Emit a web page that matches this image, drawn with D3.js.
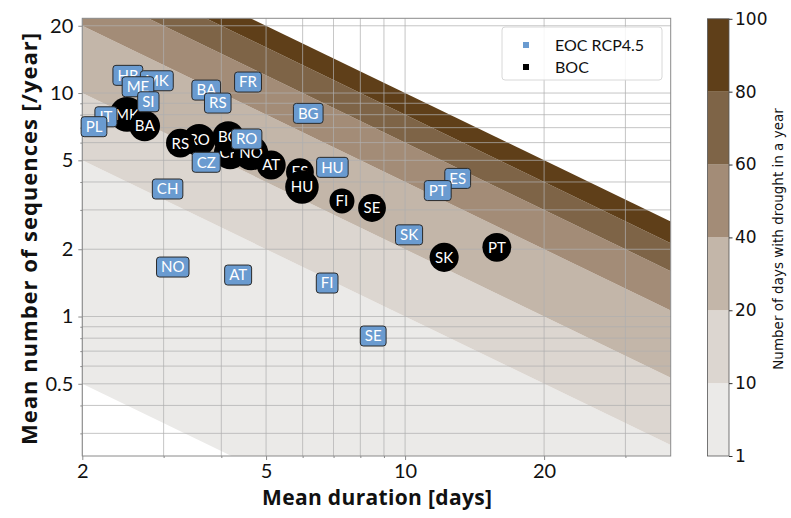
<!DOCTYPE html>
<html><head><meta charset="utf-8">
<script src="https://cdn.jsdelivr.net/npm/d3@7"></script>
<style>
html,body{margin:0;padding:0;background:#fff;}
svg{display:block;}
</style></head>
<body>
<svg id="chart" width="791" height="518"></svg>
<script>
// ---- data ----
const eocCodes    = ["HR","MK","ME","SI","IT","PL","BA","RS","FR","BG","RO","CZ","CH","HU","ES","PT","SK","NO","AT","FI","SE"];
const eocDuration = [2.51,2.90,2.64,2.78,2.25,2.12,3.71,3.93,4.57,6.17,4.54,3.71,3.06,6.96,13.0,11.77,10.2,3.14,4.35,6.78,8.53];
const eocNumber   = [12.0,11.35,10.67,9.14,7.83,7.07,10.31,9.02,11.2,8.11,6.23,4.90,3.72,4.65,4.15,3.66,2.32,1.665,1.533,1.412,0.818];

const bocCodes    = ["CH","NO","AT","BG","RO","RS","MK","BA","ES","HU","FI","SE","SK","PT"];
const bocDuration = [4.18,4.64,5.13,4.14,3.58,3.26,2.50,2.73,5.92,5.98,7.30,8.48,12.15,15.8];
const bocNumber   = [5.39,5.39,4.76,6.36,6.16,5.97,8.03,7.12,4.43,3.80,3.29,3.06,1.84,2.04];

const levels      = [1,10,20,40,60,80,100];
const levelColors = ["#ebeae8","#dcd6d0","#c3b6a9","#a38c77","#7e6447","#5f3f19"];

const xTicks = [2,5,10,20];
const yTicks = [0.5,1,2,5,10,20];

// ---- layout ----
const svg = d3.select("#chart");
const L = 82.3, R = 670.7, T = 18.3, B = 456;
const x = d3.scaleLog().domain([2, 37.6]).range([L, R]);
const y = d3.scaleLog().domain([0.2376, 21.6]).range([B, T]);
const tickFont = "Lato, 'DejaVu Sans', sans-serif";
const titleFont = "'Open Sans', Lato, sans-serif";

svg.append("defs").append("clipPath").attr("id","plotclip")
  .append("rect").attr("x",L).attr("y",T).attr("width",R-L).attr("height",B-T);

// contour bands (product duration*number constant -> straight lines in log-log)
const bands = svg.append("g").attr("clip-path","url(#plotclip)");
const [x0,x1] = x.domain();
for (let i=0;i<levels.length-1;i++){
  const a = levels[i], b = levels[i+1];
  const pts = [[x0,b/x0],[x1,b/x1],[x1,a/x1],[x0,a/x0]].map(p=>[x(p[0]),y(p[1])]);
  bands.append("path").attr("d", d3.line()(pts)+"Z").attr("fill", levelColors[i]);
}

// minor/major values for grid
function logVals(lo, hi){
  const out=[];
  for(let e=Math.floor(Math.log10(lo)); e<=Math.ceil(Math.log10(hi)); e++){
    for(let m=1;m<10;m++){ const v=m*Math.pow(10,e); if(v>=lo*0.999 && v<=hi*1.001) out.push(v);}
  }
  return out;
}
const xAll = logVals(x0,x1), yAll = logVals(0.2376,21.6);
const grid = svg.append("g");
grid.selectAll("line.gx").data(xAll).join("line")
  .attr("x1",d=>x(d)).attr("x2",d=>x(d)).attr("y1",T).attr("y2",B)
  .attr("stroke","#b0b0b0").attr("stroke-width",0.9).attr("opacity",0.8);
grid.selectAll("line.gy").data(yAll).join("line")
  .attr("y1",d=>y(d)).attr("y2",d=>y(d)).attr("x1",L).attr("x2",R)
  .attr("stroke","#b0b0b0").attr("stroke-width",0.9).attr("opacity",0.8);

// axes
const axColor = "#8a8a8a";
const fmt = d=> String(d);
const gx = svg.append("g").attr("transform",`translate(0,${B})`)
  .call(d3.axisBottom(x).tickValues(xTicks).tickFormat(fmt).tickSize(4).tickSizeOuter(0));
const gxm = svg.append("g").attr("transform",`translate(0,${B})`)
  .call(d3.axisBottom(x).tickValues(xAll.filter(v=>!xTicks.includes(v))).tickFormat("").tickSize(2).tickSizeOuter(0));
const gy = svg.append("g").attr("transform",`translate(${L},0)`)
  .call(d3.axisLeft(y).tickValues(yTicks).tickFormat(fmt).tickSize(4).tickSizeOuter(0));
const gym = svg.append("g").attr("transform",`translate(${L},0)`)
  .call(d3.axisLeft(y).tickValues(yAll.filter(v=>!yTicks.includes(v))).tickFormat("").tickSize(2).tickSizeOuter(0));
[gx,gxm,gy,gym].forEach(g=>{
  g.select(".domain").remove();
  g.selectAll("line").attr("stroke",axColor);
  g.selectAll("text").attr("font-family",tickFont).attr("font-size",20).attr("fill","#111");
});
gx.selectAll("text").attr("dy","0.75em");
gy.selectAll("text").attr("dx","-0.1em");

// frame
svg.append("rect").attr("x",L).attr("y",T).attr("width",R-L).attr("height",B-T)
  .attr("fill","none").attr("stroke",axColor).attr("stroke-width",1);

// BOC circles
const lblFont = "Lato, 'DejaVu Sans', sans-serif";
const boc = svg.append("g");
bocCodes.forEach((c,i)=>{
  const g = boc.append("g").attr("transform",`translate(${x(bocDuration[i])},${y(bocNumber[i])})`);
  const circ = g.append("circle").attr("fill","#000");
  const t = g.append("text").text(c).attr("text-anchor","middle").attr("dy","0.36em")
    .attr("font-family",lblFont).attr("font-size",15).attr("fill","#fff");
  const w = t.node().getComputedTextLength();
  circ.attr("r", Math.max(w,14)/2 + 5.5);
});

// EOC boxes
const eoc = svg.append("g");
eocCodes.forEach((c,i)=>{
  const g = eoc.append("g").attr("transform",`translate(${x(eocDuration[i])},${y(eocNumber[i])})`);
  const r = g.append("rect").attr("fill","#6a9bd0").attr("stroke","#2a2a2a").attr("stroke-width",1).attr("rx",3);
  const t = g.append("text").text(c).attr("text-anchor","middle").attr("dy","0.36em")
    .attr("font-family",lblFont).attr("font-size",15).attr("fill","#fff");
  const w = t.node().getComputedTextLength();
  const bw = w + 9, bh = 20;
  r.attr("x",-bw/2).attr("y",-bh/2).attr("width",bw).attr("height",bh);
});

// legend
const lg = svg.append("g");
lg.append("rect").attr("x",502).attr("y",27).attr("width",160).attr("height",53).attr("rx",3)
  .attr("fill","#fff").attr("fill-opacity",0.85).attr("stroke","#d8d8d8");
const legendItems = [{label:"EOC RCP4.5", color:"#6a9bd0", yy:45},{label:"BOC", color:"#000", yy:67}];
legendItems.forEach(d=>{
  lg.append("rect").attr("x",523).attr("y",d.yy-3).attr("width",6).attr("height",6).attr("fill",d.color);
  lg.append("text").attr("x",555).attr("y",d.yy).attr("dy","0.35em").text(d.label)
    .attr("font-family",lblFont).attr("font-size",16).attr("fill","#111");
});

// titles
svg.append("text").attr("x",377).attr("y",505).attr("text-anchor","middle")
  .attr("font-family",titleFont).attr("font-weight","bold").attr("font-size",21).attr("fill","#111")
  .attr("textLength",230)
  .text("Mean duration [days]");
svg.append("text").attr("transform",`translate(37,239) rotate(-90)`).attr("text-anchor","middle")
  .attr("font-family",titleFont).attr("font-weight","bold").attr("font-size",22).attr("fill","#111")
  .attr("textLength",412)
  .text("Mean number of sequences [/year]");

// colorbar
const cbX = 707.5, cbW = 21.5;
const cy = d3.scalePoint().domain(levels).range([B, T+0.5]);
const cb = svg.append("g");
for (let i=0;i<levels.length-1;i++){
  cb.append("rect").attr("x",cbX).attr("width",cbW)
    .attr("y",cy(levels[i+1])).attr("height",cy(levels[i])-cy(levels[i+1]))
    .attr("fill",levelColors[i]);
}
cb.append("rect").attr("x",cbX).attr("y",cy(100)).attr("width",cbW).attr("height",cy(1)-cy(100))
  .attr("fill","none").attr("stroke","#555").attr("stroke-width",0.8);
const gcb = svg.append("g").attr("transform",`translate(${cbX+cbW},0)`)
  .call(d3.axisRight(cy).tickSize(3.5).tickSizeOuter(0));
gcb.select(".domain").remove();
gcb.selectAll("line").attr("stroke","#333");
gcb.selectAll("text").attr("font-family","'DejaVu Sans', sans-serif").attr("font-size",17).attr("fill","#111").attr("x",6);
svg.append("text").attr("transform",`translate(783,239) rotate(-90)`).attr("text-anchor","middle")
  .attr("font-family","'DejaVu Sans', sans-serif").attr("font-size",13.5).attr("fill","#111")
  .text("Number of days with drought in a year");
</script>
</body></html>
